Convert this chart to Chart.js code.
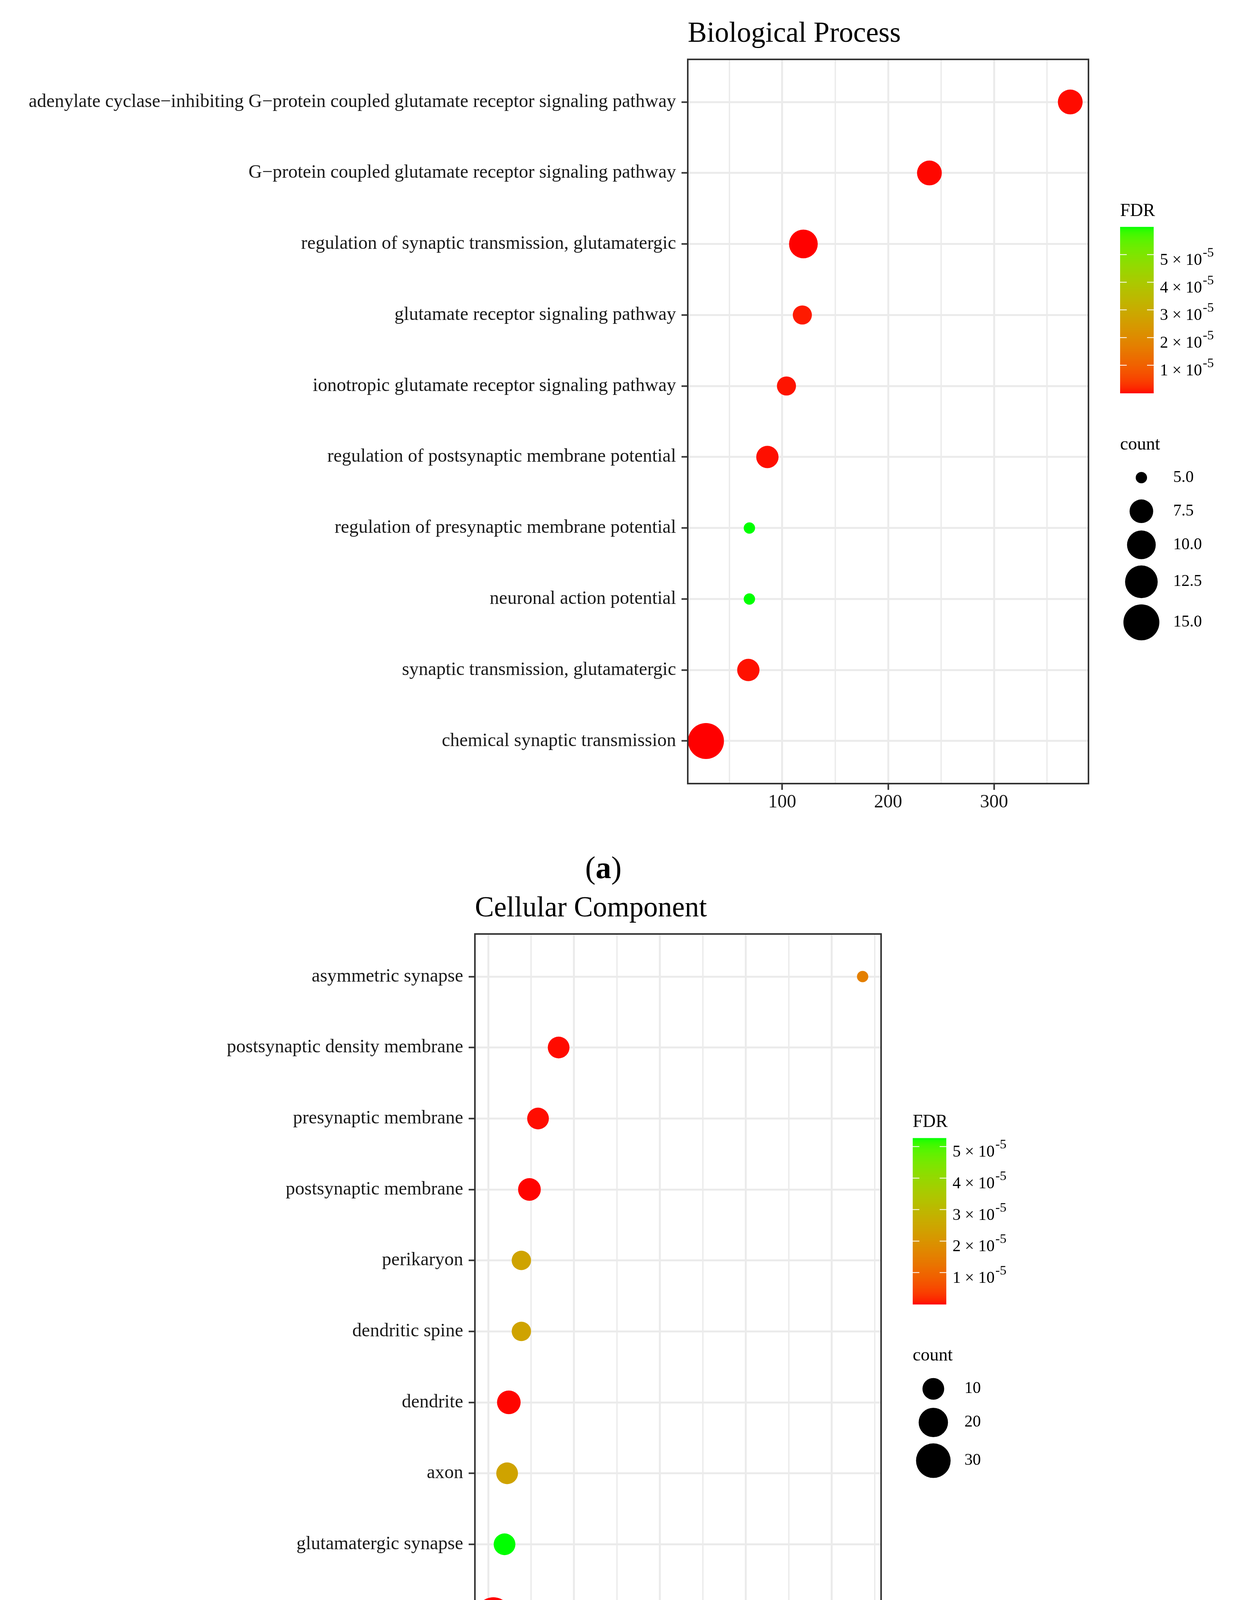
<!DOCTYPE html>
<html>
<head>
<meta charset="utf-8">
<script src="https://cdn.jsdelivr.net/npm/chart.js@4.4.1/dist/chart.umd.min.js"></script>
<style>
html, body { margin: 0; padding: 0; background: #fff; }
body { width: 3175px; height: 4539px; position: relative; overflow: hidden; font-family: "Liberation Serif", serif; }
canvas { position: absolute; left: 0; }
.tag { position: absolute; font-size: 80px; line-height: 80px; color: #000; transform: translateX(-50%); white-space: nowrap; }
</style>
</head>
<body>
<canvas id="bp" width="3175" height="2120" style="top:0"></canvas>
<canvas id="cc" width="3175" height="2120" style="top:2280px"></canvas>
<div class="tag" style="left:1545px;top:2181px">(<b>a</b>)</div>
<div class="tag" style="left:1545px;top:4406px">(<b>b</b>)</div>
<script>
// Biological Process (top to bottom)
var bpTerms = [
  'adenylate cyclase\u2212inhibiting G\u2212protein coupled glutamate receptor signaling pathway',
  'G\u2212protein coupled glutamate receptor signaling pathway',
  'regulation of synaptic transmission, glutamatergic',
  'glutamate receptor signaling pathway',
  'ionotropic glutamate receptor signaling pathway',
  'regulation of postsynaptic membrane potential',
  'regulation of presynaptic membrane potential',
  'neuronal action potential',
  'synaptic transmission, glutamatergic',
  'chemical synaptic transmission'
];
var bpX = [372, 239, 120, 119, 104, 86, 69, 69, 68, 28];
var bpCount = [8, 8, 10, 6, 6, 7, 5, 5, 7, 15];
var bpFdr = [3.1e-7, 1.8e-7, 2.4e-8, 9.5e-7, 6.2e-7, 4.4e-7, 6.0e-5, 6.0e-5, 5.0e-7, 1.1e-9];
var bpTicks = [50, 100, 150, 200, 250, 300, 350];
var bpLabeled = [100, 200, 300];
var bpSizeBreaks = [5, 7.5, 10, 12.5, 15];
var bpSizeLabels = ['5.0', '7.5', '10.0', '12.5', '15.0'];

// Cellular Component (top to bottom)
var ccTerms = [
  'asymmetric synapse',
  'postsynaptic density membrane',
  'presynaptic membrane',
  'postsynaptic membrane',
  'perikaryon',
  'dendritic spine',
  'dendrite',
  'axon',
  'glutamatergic synapse',
  'plasma membrane'
];
var ccX = [218, 41, 29, 24, 19.3, 19.3, 12, 11, 9.5, 3];
var ccCount = [5, 10, 10, 11, 8, 8, 12, 10, 10, 33];
var ccFdr = [1.5e-5, 2.6e-7, 3.1e-7, 8.0e-8, 2.4e-5, 2.4e-5, 1.1e-7, 2.4e-5, 5.27e-5, 1.0e-9];
var ccTicks = [0, 25, 50, 75, 100, 125, 150, 175, 200, 225];
var ccLabeled = [0, 50, 100, 150, 200];
var ccSizeBreaks = [10, 20, 30];
var ccSizeLabels = ['10', '20', '30'];

var fdrBreaks = [1e-5, 2e-5, 3e-5, 4e-5, 5e-5];
var fdrLabels = ['1', '2', '3', '4', '5'];

Chart.defaults.font.family = '"Liberation Serif", serif';

// red -> green gradient interpolated in Lab, like ggplot's default
function toLin(c) { c /= 255; return c <= 0.04045 ? c / 12.92 : Math.pow((c + 0.055) / 1.055, 2.4); }
function rgb2lab(r, g, b) {
  var R = toLin(r), G = toLin(g), B = toLin(b);
  var X = (0.4124 * R + 0.3576 * G + 0.1805 * B) / 0.95047;
  var Y = 0.2126 * R + 0.7152 * G + 0.0722 * B;
  var Z = (0.0193 * R + 0.1192 * G + 0.9505 * B) / 1.08883;
  function f(t) { return t > 0.008856 ? Math.cbrt(t) : 7.787 * t + 16 / 116; }
  var fx = f(X), fy = f(Y), fz = f(Z);
  return [116 * fy - 16, 500 * (fx - fy), 200 * (fy - fz)];
}
function lab2rgb(L, a, b) {
  var fy = (L + 16) / 116, fx = fy + a / 500, fz = fy - b / 200;
  function fi(t) { return t > 0.206893 ? t * t * t : (t - 16 / 116) / 7.787; }
  var X = 0.95047 * fi(fx), Y = fi(fy), Z = 1.08883 * fi(fz);
  var R = 3.2406 * X - 1.5372 * Y - 0.4986 * Z;
  var G = -0.9689 * X + 1.8758 * Y + 0.0415 * Z;
  var B = 0.0557 * X - 0.2040 * Y + 1.0570 * Z;
  function g(c) {
    c = c <= 0.0031308 ? 12.92 * c : 1.055 * Math.pow(Math.max(c, 0), 1 / 2.4) - 0.055;
    return Math.round(Math.max(0, Math.min(1, c)) * 255);
  }
  return 'rgb(' + g(R) + ',' + g(G) + ',' + g(B) + ')';
}
var labLow = rgb2lab(255, 0, 0), labHigh = rgb2lab(0, 255, 0);
function fdrColor(v, lo, hi) {
  var t = Math.max(0, Math.min(1, (v - lo) / (hi - lo)));
  return lab2rgb(labLow[0] + (labHigh[0] - labLow[0]) * t,
                 labLow[1] + (labHigh[1] - labLow[1]) * t,
                 labLow[2] + (labHigh[2] - labLow[2]) * t);
}

function makeChart(id, o) {
  var cmin = Math.min.apply(null, o.fdr), cmax = Math.max.apply(null, o.fdr);
  var nmin = Math.min.apply(null, o.count), nmax = Math.max.apply(null, o.count);
  function diam(c) { return 29 + 63 * Math.sqrt(Math.max(0, (c - nmin) / (nmax - nmin))); }
  var xmin = Math.min.apply(null, o.x), xmax = Math.max.apply(null, o.x);
  var pad = 0.05 * (xmax - xmin);
  var isLab = function (v) { return o.labeled.indexOf(v) >= 0; };

  var legendPlugin = {
    id: 'ggpanel',
    afterDatasetsDraw: function (chart) {
      var a = chart.chartArea, ctx = chart.ctx;
      ctx.save();
      // panel border
      ctx.strokeStyle = '#333333';
      ctx.lineWidth = 4;
      ctx.strokeRect(a.left, a.top, a.right - a.left, a.bottom - a.top);
      // title
      ctx.fillStyle = '#000';
      ctx.textAlign = 'left';
      ctx.textBaseline = 'alphabetic';
      ctx.font = '73px "Liberation Serif"';
      ctx.fillText(o.title, a.left, a.top - 45);

      // legend geometry
      var ds = o.sizeBreaks.map(diam);
      var dmax = ds[ds.length - 1];
      var centers = [598 + 42 + Math.max(ds[0] / 2, 30)];
      for (var i = 1; i < ds.length; i++) {
        centers.push(centers[i - 1] + Math.max(86, (ds[i - 1] + ds[i]) / 2 + 16));
      }
      var total = centers[centers.length - 1] + dmax / 2 + 34;
      var B = (a.top + a.bottom) / 2 - total / 2 + 34;
      var L = a.right + 81;

      ctx.font = '46px "Liberation Serif"';
      ctx.fillText('FDR', L, B);
      var barTop = B + 28, barH = 425, barW = 86, barBot = barTop + barH;
      var nbin = 300;
      for (var k = 0; k < nbin; k++) {
        var v = cmin + (cmax - cmin) * (k + 0.5) / nbin;
        ctx.fillStyle = fdrColor(v, cmin, cmax);
        ctx.fillRect(L, barBot - (k + 1) * barH / nbin, barW, barH / nbin + 1);
      }
      ctx.strokeStyle = '#ffffff';
      ctx.lineWidth = 2;
      for (var j = 0; j < fdrBreaks.length; j++) {
        var ty = barBot - (fdrBreaks[j] - cmin) / (cmax - cmin) * barH;
        ctx.beginPath();
        ctx.moveTo(L, ty); ctx.lineTo(L + 17, ty);
        ctx.moveTo(L + barW - 17, ty); ctx.lineTo(L + barW, ty);
        ctx.stroke();
        ctx.fillStyle = '#000';
        ctx.font = '42px "Liberation Serif"';
        var base = fdrLabels[j] + ' \u00d7 10';
        ctx.fillText(base, L + barW + 16, ty + 26);
        var w = ctx.measureText(base).width;
        ctx.font = '34px "Liberation Serif"';
        ctx.fillText('-5', L + barW + 16 + w + 2, ty + 5);
      }

      ctx.fillStyle = '#000';
      ctx.font = '46px "Liberation Serif"';
      ctx.fillText('count', L, B + 598);
      var cx = L + dmax / 2 + 8.5;
      ctx.font = '42px "Liberation Serif"';
      ctx.textBaseline = 'middle';
      for (var m = 0; m < ds.length; m++) {
        ctx.beginPath();
        ctx.arc(cx, B + centers[m], ds[m] / 2, 0, Math.PI * 2);
        ctx.fill();
        ctx.fillText(o.sizeLabels[m], L + dmax + 44, B + centers[m]);
      }
      ctx.restore();
    }
  };

  return new Chart(document.getElementById(id), {
    type: 'bubble',
    data: {
      datasets: [{
        data: o.x.map(function (v, i) { return { x: v, y: i, r: diam(o.count[i]) / 2 }; }),
        backgroundColor: o.fdr.map(function (v) { return fdrColor(v, cmin, cmax); }),
        borderWidth: 0,
        hoverBorderWidth: 0,
        clip: 0
      }]
    },
    options: {
      responsive: false,
      animation: false,
      devicePixelRatio: 1,
      events: [],
      layout: { padding: { top: o.padTop, right: o.padRight, left: 0, bottom: 0 } },
      plugins: { legend: { display: false }, tooltip: { enabled: false } },
      scales: {
        x: {
          type: 'linear',
          min: xmin - pad,
          max: xmax + pad,
          afterBuildTicks: function (s) { s.ticks = o.ticks.map(function (v) { return { value: v }; }); },
          afterFit: function (s) { s.height = o.xAxisH; },
          ticks: {
            autoSkip: false, maxRotation: 0, padding: 4, color: '#1a1a1a',
            font: { size: 48 },
            callback: function (v) { return isLab(v) ? String(v) : ''; }
          },
          grid: {
            color: '#EBEBEB',
            lineWidth: function (c) { return c.tick && isLab(c.tick.value) ? 5 : 3.5; },
            tickColor: function (c) { return c.tick && isLab(c.tick.value) ? '#333333' : 'rgba(0,0,0,0)'; },
            tickLength: 16,
            tickWidth: 4
          },
          border: { display: false }
        },
        y: {
          type: 'linear',
          min: -0.6,
          max: o.terms.length - 1 + 0.6,
          reverse: true,
          afterBuildTicks: function (s) { s.ticks = o.terms.map(function (t, i) { return { value: i }; }); },
          afterFit: function (s) { s.width = o.yAxisW; },
          ticks: {
            autoSkip: false, padding: 14, color: '#1a1a1a',
            font: { size: 48 },
            callback: function (v) { return o.terms[v]; }
          },
          grid: { color: '#EBEBEB', lineWidth: 5, tickColor: '#333333', tickLength: 16, tickWidth: 4 },
          border: { display: false }
        }
      }
    },
    plugins: [legendPlugin]
  });
}

makeChart('bp', {
  title: 'Biological Process',
  terms: bpTerms, x: bpX, count: bpCount, fdr: bpFdr,
  ticks: bpTicks, labeled: bpLabeled,
  sizeBreaks: bpSizeBreaks, sizeLabels: bpSizeLabels,
  padTop: 152, padRight: 388, yAxisW: 1761, xAxisH: 114
});

makeChart('cc', {
  title: 'Cellular Component',
  terms: ccTerms, x: ccX, count: ccCount, fdr: ccFdr,
  ticks: ccTicks, labeled: ccLabeled,
  sizeBreaks: ccSizeBreaks, sizeLabels: ccSizeLabels,
  padTop: 111, padRight: 919, yAxisW: 1216, xAxisH: 156
});
</script>
</body>
</html>
